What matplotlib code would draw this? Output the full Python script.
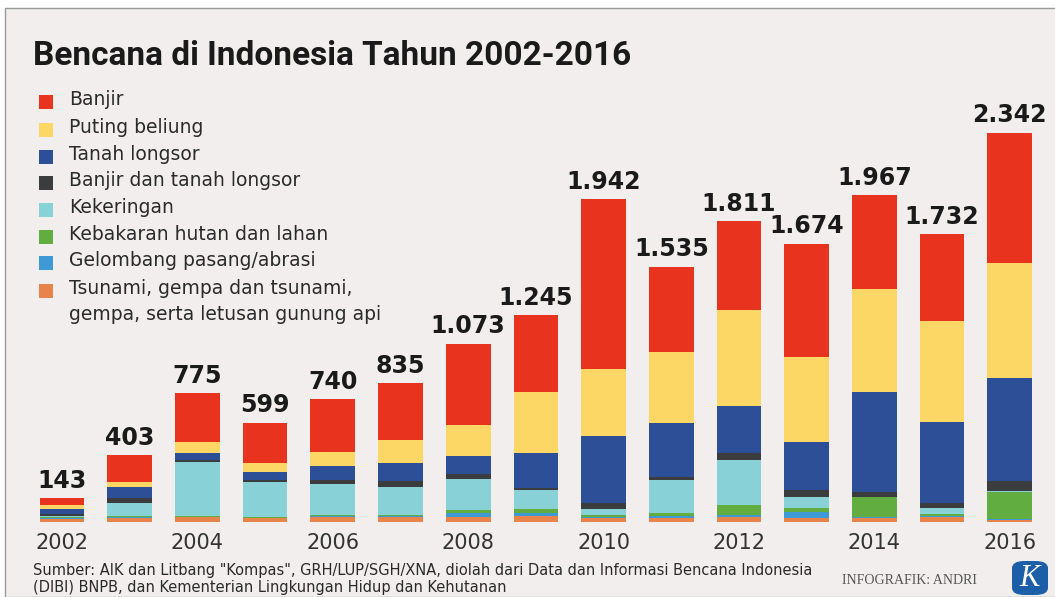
import matplotlib.pyplot as plt
from matplotlib.patches import Rectangle, FancyBboxPatch
import numpy as np

## BENCANA DI INDONESIA 2002-2016

years = list(range(2002, 2017))
totals = [143, 403, 775, 599, 740, 835, 1073, 1245, 1942, 1535, 1811, 1674, 1967, 1732, 2342]

# bottom to top of each stack
tsunami    = [20, 26, 28, 23, 30, 28, 33, 35, 25, 27, 28, 25, 24, 32, 15]
gelombang  = [5, 6, 5, 4, 6, 6, 20, 22, 8, 10, 16, 38, 4, 5, 3]
kebakaran  = [4, 4, 4, 3, 8, 8, 20, 20, 8, 18, 60, 20, 120, 14, 165]
kekeringan = [8, 76, 327, 213, 187, 167, 185, 116, 40, 200, 267, 66, 3, 32, 3]
banjir_tl  = [10, 30, 8, 8, 20, 40, 32, 10, 36, 16, 45, 46, 30, 31, 62]
tanah      = [30, 66, 42, 52, 84, 108, 108, 211, 401, 325, 281, 289, 600, 486, 621]
puting     = [26, 34, 70, 50, 84, 137, 187, 369, 401, 425, 578, 508, 620, 612, 691]
banjir     = [40, 161, 291, 246, 321, 341, 488, 462, 1023, 514, 536, 682, 566, 520, 782]

legend_labels = ["Banjir", "Puting beliung", "Tanah longsor", "Banjir dan tanah longsor",
                 "Kekeringan", "Kebakaran hutan dan lahan", "Gelombang pasang/abrasi",
                 "Tsunami, gempa dan tsunami,\ngempa, serta letusan gunung api"]

series = [banjir, puting, tanah, banjir_tl, kekeringan, kebakaran, gelombang, tsunami]
colors = ['#e8341f', '#fdd765', '#2c4f97', '#3b3c3e', '#88d1d6', '#62ad40', '#3d9ad6', '#e8844a']

W, H = 1055, 597
bg = '#f2eeee'

fig = plt.figure(figsize=(W / 100, H / 100), dpi=100)
fig.patch.set_facecolor('white')
fig.patches.append(Rectangle((5 / W, 0), 1, 1 - 8 / H, transform=fig.transFigure,
                             facecolor=bg, edgecolor='#9a9a9a', linewidth=1, zorder=-5))

ax = fig.add_axes([30 / W, 75 / H, 1015 / W, 402 / H])
ax.set_facecolor('none')
ax.set_zorder(2)

x = np.arange(len(years))
step = 67.7
ax.set_xlim(-(62 - 30) / step, (1045 - 62) / step)
ax.set_ylim(0, 402 / 0.1661)

bottom = np.zeros(len(years))
for vals, col in zip(series[::-1], colors[::-1]):
    ax.bar(x, vals, 0.66, bottom=bottom, color=col, linewidth=0)
    bottom += np.array(vals)

for xi, t in zip(x, totals):
    lab = '{:,}'.format(t).replace(',', '.')
    ax.annotate(lab, (xi, t), xytext=(0, 4), textcoords='offset points',
                ha='center', va='bottom', fontsize=17, fontweight='bold', color='#1a1a1a')

ax.set_xticks(x[::2])
ax.set_xticklabels([str(y) for y in years[::2]], fontsize=15, color='#333333')
ax.tick_params(axis='x', length=0, pad=8)
ax.set_yticks([])
for s in ax.spines.values():
    s.set_visible(False)

fig.text(33 / W, 1 - 56 / H, "Bencana di Indonesia Tahun 2002-2016",
         family=['Roboto', 'DejaVu Sans'], fontsize=24,
         fontweight='bold', color='#1a1a1a', va='center')

# legend
rows_y = [102, 130, 157, 183, 210, 237, 263, 291]
for lab, col, ry in zip(legend_labels, colors, rows_y):
    fig.patches.append(Rectangle((39 / W, 1 - (ry + 7) / H), 14 / W, 14 / H,
                                 transform=fig.transFigure, facecolor=col, linewidth=0))
    fig.text(69 / W, 1 - (ry - 12) / H, lab, fontsize=13.5, color='#2a2a2a',
             va='top', linespacing=1.45)

fig.text(33 / W, 1 - 595 / H,
         'Sumber: AIK dan Litbang "Kompas", GRH/LUP/SGH/XNA, diolah dari Data dan Informasi Bencana Indonesia\n'
         '(DIBI) BNPB, dan Kementerian Lingkungan Hidup dan Kehutanan',
         fontsize=10.5, color='#2a2a2a', va='bottom', linespacing=1.2)
fig.text(842 / W, 1 - 580 / H, "INFOGRAFIK: ANDRI", family=['Liberation Serif', 'DejaVu Serif'],
         fontsize=10, color='#555555', va='center')

fig.patches.append(FancyBboxPatch((1012 / W, 2 / H), 36 / W, 34 / H,
                                  boxstyle='round,pad=0,rounding_size=0.012',
                                  transform=fig.transFigure, facecolor='#1d5ea8', linewidth=0))
fig.text(1030 / W, 1 - 578 / H, "K", family=['Liberation Serif', 'DejaVu Serif'],
         fontsize=22, style='italic', color='white', ha='center', va='center')

plt.savefig('out.png', dpi=100, facecolor=fig.get_facecolor())
plt.close()
